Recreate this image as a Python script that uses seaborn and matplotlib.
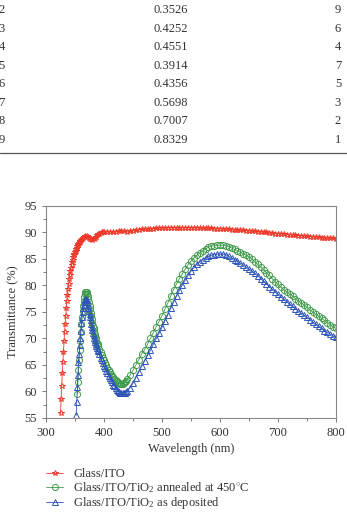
import numpy as np
import matplotlib
matplotlib.use("Agg")
import matplotlib.pyplot as plt
import seaborn as sns

# table rows shown above the chart
tbl_idx = ["2", "3", "4", "5", "6", "7", "8", "9"]
tbl_val = ["0.3526", "0.4252", "0.4551", "0.3914", "0.4356", "0.5698", "0.7007", "0.8329"]
tbl_rank = ["9", "6", "4", "7", "5", "3", "2", "1"]

# Glass/ITO
ito_wl = np.r_[325:361, 362:401:2, 405:801:5]
ito_t = [56.0, 58.5, 61.0, 63.5, 65.5, 67.5, 69.5, 71.2, 72.8, 74.3,
         75.7, 77.0, 78.2, 79.3, 80.3, 81.2, 82.0, 82.7, 83.3, 83.9,
         84.4, 84.9, 85.3, 85.7, 86.0, 86.3, 86.6, 86.9, 87.1, 87.4,
         87.6, 87.8, 88.0, 88.2, 88.4, 88.6,
         88.8, 89.0, 89.2, 89.3, 89.3, 89.2, 89.0, 88.8, 88.7, 88.6,
         88.7, 88.9, 89.2, 89.5, 89.7, 89.8, 89.9, 90.0, 90.0, 90.0,
         90.1, 90.1, 90.0, 90.1, 90.2, 90.2, 90.2, 90.1, 90.2, 90.3,
         90.4, 90.5, 90.6, 90.6, 90.6, 90.7, 90.7, 90.8, 90.8, 90.8,
         90.8, 90.9, 90.9, 90.9, 90.9, 90.9, 90.9, 90.9, 90.9, 90.9,
         90.9, 90.9, 90.8, 90.8, 90.8, 90.8, 90.8, 90.7, 90.7, 90.7,
         90.6, 90.6, 90.6, 90.5, 90.5, 90.4, 90.4, 90.4, 90.3, 90.3,
         90.2, 90.2, 90.1, 90.1, 90.0, 90.0, 89.9, 89.9, 89.8, 89.8,
         89.7, 89.7, 89.6, 89.6, 89.5, 89.5, 89.4, 89.4, 89.3, 89.3,
         89.2, 89.2, 89.1, 89.1, 89.0, 89.0, 88.9, 88.9, 88.9, 88.8]

# Glass/ITO/TiO2 annealed at 450 C
ann_wl = np.r_[354:391, 392:441:2, 445:801:5]
ann_t = [59.5, 61.8, 64.0, 66.0, 67.9, 69.6, 71.2, 72.7, 74.0, 75.2,
         76.2, 77.1, 77.8, 78.3, 78.7,
         78.8, 78.7, 78.4, 78.0, 77.4, 76.8, 76.2, 75.5, 74.9, 74.3,
         73.6, 73.0, 72.4, 71.9, 71.4, 70.9, 70.4, 70.0, 69.6, 69.2,
         68.9, 68.6,
         68.0, 67.4, 66.9, 66.4, 65.9, 65.4, 65.0, 64.5, 64.1, 63.7,
         63.3, 63.0, 62.7, 62.4, 62.1, 61.9, 61.7, 61.6, 61.5, 61.5,
         61.5, 61.6, 61.8, 62.0, 62.3,
         63.1, 64.0, 65.0, 66.0, 67.1, 67.9, 68.9, 70.0, 71.1, 72.2,
         73.2, 74.3, 75.5, 76.7, 78.0, 79.2, 80.3, 81.3, 82.2, 83.1,
         83.9, 84.6, 85.2, 85.7, 86.1, 86.5, 86.9, 87.2, 87.4, 87.5,
         87.6, 87.6, 87.6, 87.5, 87.3, 87.1, 86.8, 86.6, 86.3, 86.0,
         85.7, 85.4, 85.0, 84.5, 84.0, 83.5, 83.0, 82.4, 81.9, 81.3,
         80.7, 80.2, 79.7, 79.2, 78.8, 78.4, 78.0, 77.5, 77.1, 76.7,
         76.3, 75.9, 75.4, 75.0, 74.6, 74.2, 73.8, 73.4, 73.0, 72.6,
         72.2, 71.9]

# Glass/ITO/TiO2 as deposited
dep_wl = np.r_[352:391, 392:441:2, 445:801:5]
dep_t = [55.5, 58.0, 60.9, 63.2, 65.5, 67.0, 68.7, 70.1, 71.5, 72.9,
         74.0, 75.0, 75.8, 76.4, 76.9, 77.2, 77.4,
         77.4, 77.2, 76.8, 76.3, 75.7, 75.1, 74.6, 74.0, 73.4, 72.8,
         72.2, 71.6, 71.1, 70.6, 70.1, 69.7, 69.3, 68.9, 68.5, 68.2,
         67.9, 67.6,
         67.0, 66.4, 65.9, 65.3, 64.9, 64.4, 63.9, 63.4, 62.9, 62.5,
         62.1, 61.7, 61.3, 61.0, 60.6, 60.3, 60.1, 59.9, 59.8, 59.7,
         59.7, 59.7, 59.8, 59.9, 60.1,
         60.7, 61.6, 62.6, 63.7, 64.8, 65.8, 66.8, 67.8, 68.9, 70.0,
         71.0, 72.1, 73.3, 74.5, 75.7, 76.9, 78.0, 79.1, 80.1, 81.0,
         81.9, 82.7, 83.4, 84.0, 84.5, 84.9, 85.2, 85.5, 85.7, 85.8,
         85.9, 85.9, 85.9, 85.8, 85.5, 85.2, 84.9, 84.6, 84.2, 83.9,
         83.5, 83.1, 82.7, 82.3, 81.8, 81.3, 80.8, 80.3, 79.8, 79.3,
         78.8, 78.3, 77.8, 77.4, 76.9, 76.5, 76.1, 75.6, 75.2, 74.8,
         74.4, 74.0, 73.5, 73.1, 72.7, 72.3, 71.9, 71.5, 71.2, 70.8,
         70.5, 70.2]

sns.set_style("ticks")
plt.rcParams['font.family'] = ['Liberation Serif', 'DejaVu Serif']
plt.rcParams['mathtext.fontset'] = 'custom'
plt.rcParams['mathtext.rm'] = 'Liberation Serif'
plt.rcParams['mathtext.it'] = 'Liberation Serif:italic'

txt_col = '#333333'
fig = plt.figure(figsize=(3.47, 5.12), dpi=100)

# table part
for i in range(len(tbl_idx)):
    y = 1 - (10 + i * 18.55) / 512
    fig.text(-0.004, y, tbl_idx[i], ha='left', va='center', fontsize=9, color=txt_col)
    fig.text(0.493, y, tbl_val[i], ha='center', va='center', fontsize=9, color=txt_col)
    fig.text(0.974, y, tbl_rank[i], ha='center', va='center', fontsize=9, color=txt_col)
fig.add_artist(plt.Line2D([0, 1], [1 - 153.3 / 512] * 2, color='#555555', lw=0.9))

ax = fig.add_axes([0.1326, 0.1836, 0.8357, 0.4141])

series = [
    (ito_wl, ito_t, '#ee3b2b', '*', 'Glass/ITO'),
    (ann_wl, ann_t, '#3f9a4a', 'o', 'Glass/ITO/TiO$_2$ annealed at 450$^{\\circ}$C'),
    (dep_wl, dep_t, '#2f55b8', '^', 'Glass/ITO/TiO$_2$ as deposited'),
]
for wl, t, col, mk, lab in series:
    sns.lineplot(x=wl, y=t, ax=ax, color=col, marker=mk, markersize=4.4,
                 markerfacecolor='none', markeredgecolor=col, markeredgewidth=0.7,
                 linewidth=0.6, label=lab, sort=False, estimator=None)

ax.set_xlim(300, 800)
ax.set_ylim(55, 95)
ax.set_xticks(range(300, 801, 100))
ax.set_xticks(range(350, 800, 100), minor=True)
ax.set_yticks(range(55, 96, 5))
ax.set_yticks(np.arange(57.5, 95, 5), minor=True)
ax.tick_params(which='both', direction='out', colors='#666666', labelcolor=txt_col,
               labelsize=9, width=0.6)
ax.tick_params(which='major', length=3)
ax.tick_params(which='minor', length=2)
for s in ax.spines.values():
    s.set_color('#888888')
    s.set_linewidth(0.8)
    s.set_visible(True)

ax.set_xlabel('Wavelength (nm)', fontsize=9, color=txt_col, labelpad=3)
ax.set_ylabel('Transmittance (%)', fontsize=9, color=txt_col, labelpad=4)

handles, labels = ax.get_legend_handles_labels()
ax.legend_.remove()
fig.legend(handles, labels, loc='upper left', bbox_to_anchor=(0.118, 1 - 463 / 512),
           frameon=False, fontsize=9, handlelength=1.4, handletextpad=0.8,
           labelspacing=0.02, labelcolor=txt_col, borderaxespad=0)

fig.savefig('out.png', dpi=100)
